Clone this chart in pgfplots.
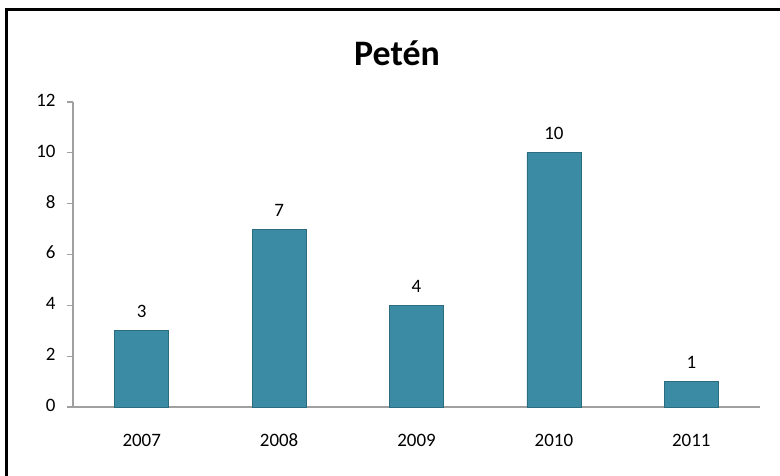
\documentclass[border=0pt]{standalone}
\usepackage{fontspec}
\setmainfont{Carlito}
\usepackage{pgfplots}
\pgfplotsset{compat=1.18}
\definecolor{barfill}{HTML}{3A8BA3}
\definecolor{baredge}{HTML}{2C6C7F}
\definecolor{axgray}{HTML}{A0A0A0}
\begin{document}
\begin{tikzpicture}[x=1bp,y=1bp]
\path[use as bounding box] (0,0) rectangle (780,476);
\draw[line width=3bp, black] (6.5,0) -- (6.5,466.5) -- (780,466.5);
\node[font=\fontsize{36}{40}\selectfont\bfseries] at (397,423) {Petén};
\begin{axis}[
  at={(73bp,69bp)}, anchor=south west,
  scale only axis, width=687bp, height=305bp,
  xmin=-0.5, xmax=4.5, ymin=0, ymax=12,
  axis lines*=left,
  axis line style={axgray, line width=1.2bp},
  ytick={0,2,...,12},
  xtick={0,1,2,3,4},
  xticklabels={2007,2008,2009,2010,2011},
  extra x ticks={-0.5,0.5,1.5,2.5,3.5,4.5},
  extra x tick labels={},
  extra x tick style={major tick length=7bp, tick style={axgray, line width=1.2bp}},
  x tick style={draw=none},
  y tick style={axgray, line width=1.2bp},
  major tick length=6bp,
  tick align=outside,
  ticklabel style={font=\fontsize{19}{22}\selectfont},
  /pgf/number format/assume math mode=true,
  typeset ticklabels with strut,
  xticklabel style={yshift=-15bp},
  yticklabel style={xshift=-8bp},
  ybar, bar width=54bp,
  nodes near coords,
  nodes near coords style={font=\fontsize{19}{22}\selectfont, black, yshift=9bp},
  clip=false,
]
\addplot[fill=barfill, draw=baredge, line width=0.8bp] coordinates {(0,3) (1,7) (2,4) (3,10) (4,1)};
\end{axis}
\end{tikzpicture}
\end{document}
